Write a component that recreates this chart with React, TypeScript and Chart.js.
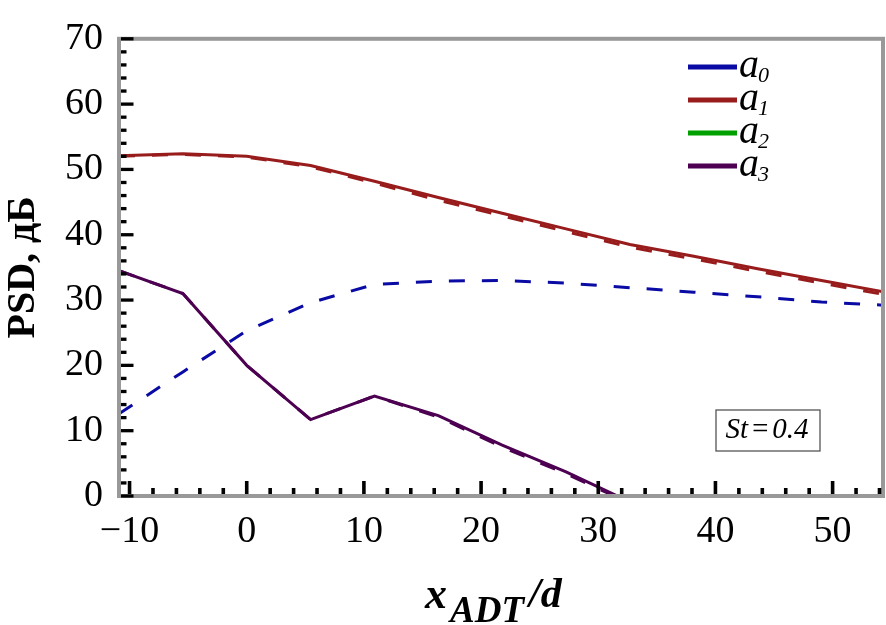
import { useEffect, useRef } from 'react'
import { Chart, registerables, Plugin } from 'chart.js'

Chart.register(...registerables)

// x nodes (x_ADT/d) shared by all curves
const xNodes = [-10.9, -5.45, 0, 5.45, 10.9, 16.35, 21.8, 27.25, 32.7, 38.15, 43.6, 49.05, 54.5]

// PSD values, dB
const a1Solid = [52.1, 52.4, 52.0, 50.6, 48.2, 45.7, 43.3, 40.9, 38.5, 36.7, 34.8, 33.0, 31.2]
const a1Dashed = [52.0, 52.3, 51.9, 50.4, 47.9, 45.3, 42.9, 40.5, 38.1, 36.3, 34.4, 32.6, 30.8]
const a0Dashed = [12.6, 19.0, 25.3, 29.6, 32.4, 32.9, 33.0, 32.6, 31.9, 31.2, 30.5, 29.7, 29.2]
const a3Solid = [34.5, 31.0, 20.0, 11.7, 15.3, 12.3, 7.8, 3.7, -0.9]
const a3Dashed = [34.5, 31.0, 20.0, 11.7, 15.3, 12.1, 7.5, 3.4, -1.1]

const xTicks = [-10, 0, 10, 20, 30, 40, 50]
const yTicks = [0, 10, 20, 30, 40, 50, 60, 70]
const xMinor = Array.from({ length: 33 }, (_, i) => -10 + i * 2)
const yMinor = Array.from({ length: 36 }, (_, i) => i * 2)

const legendLabels = ['0', '1', '2', '3']
const colors = ['#0a0aa4', '#981c1c', '#00a000', '#4d0052']

const serif = "'Liberation Serif', 'Times New Roman', serif"

const toPoints = (ys: number[]) => ys.map((y, i) => ({ x: xNodes[i], y }))

const overlay: Plugin = {
  id: 'overlay',
  afterDatasetsDraw(chart) {
    const { ctx, chartArea: a, scales } = chart
    const xs = scales.x
    const ys = scales.y
    ctx.save()

    // frame
    ctx.strokeStyle = '#999999'
    ctx.lineWidth = 4
    ctx.strokeRect(a.left, a.top, a.right - a.left, a.bottom - a.top)

    // inward ticks
    ctx.strokeStyle = '#000'
    ctx.lineWidth = 3.6
    xMinor.forEach(v => {
      const px = xs.getPixelForValue(v)
      if (px > a.right - 2) return
      const len = v % 10 === 0 ? 13 : 6
      ctx.beginPath()
      ctx.moveTo(px, a.bottom - 2)
      ctx.lineTo(px, a.bottom - 2 - len)
      ctx.stroke()
    })
    ctx.lineWidth = 3.3
    yMinor.forEach(v => {
      const py = ys.getPixelForValue(v)
      const len = v % 10 === 0 ? 12.5 : 5.5
      ctx.beginPath()
      ctx.moveTo(a.left + 2, py)
      ctx.lineTo(a.left + 2 + len, py)
      ctx.stroke()
    })

    // legend
    legendLabels.forEach((lbl, i) => {
      const y = 67 + i * 33
      ctx.strokeStyle = colors[i]
      ctx.lineWidth = 5
      ctx.beginPath()
      ctx.moveTo(688, y)
      ctx.lineTo(737, y)
      ctx.stroke()
      ctx.fillStyle = '#000'
      ctx.textAlign = 'left'
      ctx.textBaseline = 'alphabetic'
      ctx.font = `italic 40px ${serif}`
      ctx.fillText('a', 739, y + 10)
      const w = ctx.measureText('a').width
      ctx.font = `italic 22px ${serif}`
      ctx.fillText(lbl, 739 + w - 1, y + 15)
    })

    // St box
    ctx.fillStyle = '#fff'
    ctx.fillRect(716, 410, 104, 41)
    ctx.strokeStyle = '#555'
    ctx.lineWidth = 1.3
    ctx.strokeRect(716, 410, 104, 41)
    ctx.fillStyle = '#000'
    ctx.textAlign = 'center'
    ctx.font = `italic 29px ${serif}`
    ctx.fillText('St\u200a=\u200a0.4', 767, 438)

    // x axis title
    ctx.textAlign = 'left'
    ctx.font = `italic bold 44px ${serif}`
    ctx.fillText('x', 425, 608)
    ctx.font = `italic bold 37px ${serif}`
    ctx.fillText('ADT', 450, 622)
    ctx.font = `italic bold 42px ${serif}`
    ctx.fillText('/d', 529, 607)

    ctx.restore()
  },
}

export default function App() {
  const chartRef = useRef<HTMLCanvasElement>(null)
  const chartInstance = useRef<Chart | null>(null)

  useEffect(() => {
    if (!chartRef.current) return
    if (chartInstance.current) chartInstance.current.destroy()

    const dash = [16, 17]
    chartInstance.current = new Chart(chartRef.current, {
      type: 'line',
      data: {
        datasets: [
          { label: 'a1', data: toPoints(a1Solid), borderColor: colors[1], borderWidth: 3 },
          { label: 'a1 dashed', data: toPoints(a1Dashed), borderColor: colors[1], borderWidth: 3, borderDash: dash },
          { label: 'a0 dashed', data: toPoints(a0Dashed), borderColor: colors[0], borderWidth: 3, borderDash: dash },
          { label: 'a3', data: toPoints(a3Solid), borderColor: colors[3], borderWidth: 3 },
          { label: 'a3 dashed', data: toPoints(a3Dashed), borderColor: colors[3], borderWidth: 3, borderDash: dash },
        ],
      },
      options: {
        animation: false,
        responsive: true,
        maintainAspectRatio: false,
        layout: { padding: { top: 25, right: 3, left: 0, bottom: 0 } },
        elements: { point: { radius: 0 }, line: { tension: 0, fill: false } },
        plugins: { legend: { display: false }, tooltip: { enabled: false } },
        scales: {
          x: {
            type: 'linear',
            min: -10.9,
            max: 54.3,
            grid: { display: false, drawTicks: false },
            border: { display: false },
            afterBuildTicks: (s: any) => { s.ticks = xTicks.map(v => ({ value: v })) },
            afterFit: (s: any) => { s.height = 129 },
            ticks: {
              color: '#000',
              font: { family: serif, size: 38 },
              padding: 13,
              maxRotation: 0,
              autoSkip: false,
              callback: (v: any) => (v < 0 ? '\u2212' + Math.abs(v) : String(v)),
            },
          },
          y: {
            type: 'linear',
            min: 0,
            max: 70,
            grid: { display: false, drawTicks: false },
            border: { display: false },
            afterBuildTicks: (s: any) => { s.ticks = yTicks.map(v => ({ value: v })) },
            afterFit: (s: any) => { s.width = 119 },
            ticks: {
              color: '#000',
              font: { family: serif, size: 38 },
              padding: 16,
            },
            title: {
              display: true,
              text: 'PSD, дБ',
              color: '#000',
              font: { family: serif, size: 40, weight: 'bold' },
              padding: 0,
            },
          },
        },
      },
      plugins: [overlay],
    })

    return () => {
      if (chartInstance.current) {
        chartInstance.current.destroy()
        chartInstance.current = null
      }
    }
  }, [])

  return (
    <div style={{ position: 'absolute', left: 0, top: 0, width: 886, height: 625, background: '#fff' }}>
      <canvas ref={chartRef}></canvas>
    </div>
  )
}
